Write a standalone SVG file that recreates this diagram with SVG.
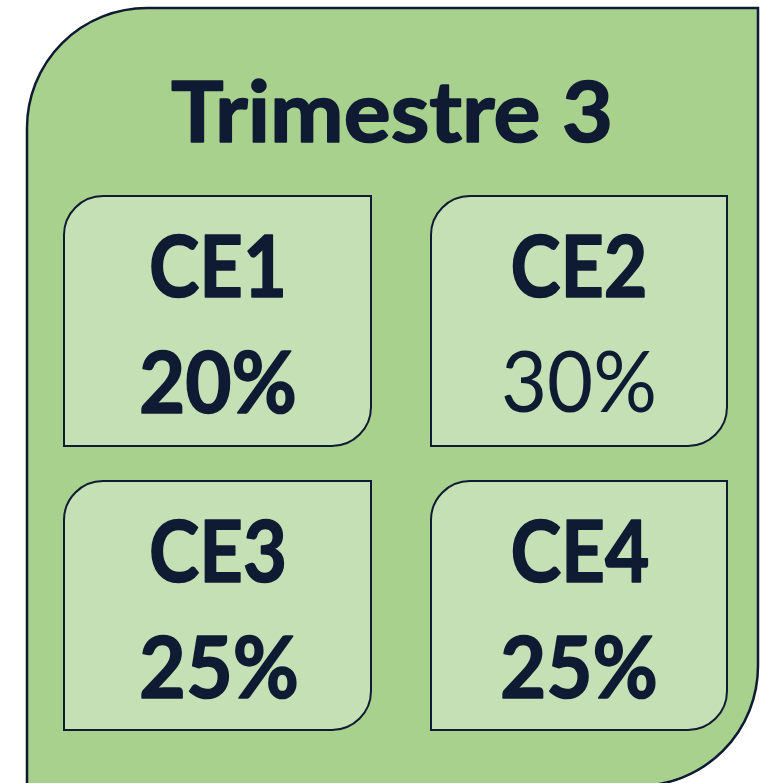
<svg xmlns="http://www.w3.org/2000/svg" width="771" height="783" viewBox="0 0 771 783">
  <style>
    .outer { fill: #A9D18E; stroke: #0F1A33; stroke-width: 2.5; }
    .box { fill: #C5E0B4; stroke: #0F1A33; stroke-width: 2; }
    .t { font-family: Lato, "Open Sans", "Liberation Sans", sans-serif; fill: #0F1A33; text-anchor: middle; }
    .b { font-weight: bold; stroke: #0F1A33; stroke-width: 1.6; stroke-linejoin: round; }
    .r { font-weight: normal; }
  </style>
  <rect width="771" height="783" fill="#FFFFFF"/>
  <g id="trimestre">
    <path class="outer" d="M27,128 A120,120 0 0 1 147,8 L758,8 L758,666 A120,120 0 0 1 638,786 L27,786 Z"/>
    <text class="t b" x="392" y="142" font-size="84" textLength="442" lengthAdjust="spacingAndGlyphs">Trimestre 3</text>
  </g>
  <g id="ce1">
    <path class="box" d="M64,235 A39,39 0 0 1 103,196 L371,196 L371,407 A39,39 0 0 1 332,446 L64,446 Z"/>
    <text class="t b" x="218" y="297" font-size="86" textLength="138" lengthAdjust="spacingAndGlyphs">CE1</text>
    <text class="t b" x="218" y="413" font-size="86" textLength="158" lengthAdjust="spacingAndGlyphs">20%</text>
  </g>
  <g id="ce2">
    <path class="box" d="M431,235 A39,39 0 0 1 470,196 L727,196 L727,407 A39,39 0 0 1 688,446 L431,446 Z"/>
    <text class="t b" x="579" y="297" font-size="86" textLength="137" lengthAdjust="spacingAndGlyphs">CE2</text>
    <text class="t r" x="579" y="412" font-size="86" textLength="156" lengthAdjust="spacingAndGlyphs">30%</text>
  </g>
  <g id="ce3">
    <path class="box" d="M64,520 A39,39 0 0 1 103,481 L371,481 L371,691 A39,39 0 0 1 332,730 L64,730 Z"/>
    <text class="t b" x="218" y="582" font-size="86" textLength="138" lengthAdjust="spacingAndGlyphs">CE3</text>
    <text class="t b" x="219" y="698" font-size="86" textLength="160" lengthAdjust="spacingAndGlyphs">25%</text>
  </g>
  <g id="ce4">
    <path class="box" d="M431,520 A39,39 0 0 1 470,481 L727,481 L727,691 A39,39 0 0 1 688,730 L431,730 Z"/>
    <text class="t b" x="580" y="582" font-size="86" textLength="139" lengthAdjust="spacingAndGlyphs">CE4</text>
    <text class="t b" x="579" y="698" font-size="86" textLength="158" lengthAdjust="spacingAndGlyphs">25%</text>
  </g>
  <g id="connectors"></g>
</svg>
